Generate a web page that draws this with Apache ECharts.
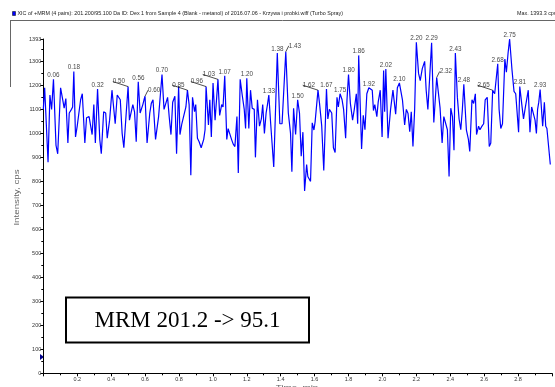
<!DOCTYPE html>
<html><head><meta charset="utf-8">
<script src="https://cdn.jsdelivr.net/npm/echarts@6/dist/echarts.min.js"></script>
<style>html,body{margin:0;padding:0;background:#fff}#c{width:555px;height:387px}</style>
</head><body><div id="c"></div>
<script>
// Retention time (min)
const times = [
0,0.008,0.028,0.039,0.049,0.06,0.075,0.085,0.102,0.117,
0.123,0.133,0.145,0.153,0.166,0.173,0.18,0.19,0.2,0.22,
0.23,0.245,0.255,0.27,0.28,0.288,0.298,0.307,0.32,0.333,
0.342,0.356,0.368,0.377,0.391,0.405,0.415,0.424,0.436,0.444,
0.454,0.465,0.475,0.489,0.5,0.508,0.518,0.528,0.538,0.548,
0.56,0.571,0.587,0.594,0.6,0.612,0.628,0.637,0.647,0.662,
0.68,0.7,0.712,0.723,0.733,0.743,0.753,0.763,0.776,0.786,
0.798,0.806,0.817,0.825,0.841,0.85,0.86,0.87,0.88,0.892,
0.899,0.909,0.919,0.931,0.946,0.954,0.96,0.974,0.982,0.991,
1.001,1.013,1.021,1.03,1.04,1.052,1.06,1.07,1.082,1.09,
1.1,1.11,1.12,1.13,1.142,1.15,1.161,1.173,1.185,1.193,
1.2,1.212,1.222,1.232,1.244,1.251,1.263,1.275,1.286,1.294,
1.304,1.314,1.322,1.33,1.341,1.349,1.359,1.38,1.395,1.408,
1.43,1.445,1.458,1.466,1.476,1.488,1.5,1.511,1.521,1.531,
1.541,1.553,1.56,1.568,1.576,1.586,1.596,1.603,1.62,1.629,
1.642,1.654,1.67,1.678,1.687,1.701,1.711,1.721,1.732,1.74,
1.75,1.762,1.771,1.783,1.791,1.8,1.811,1.824,1.834,1.846,
1.854,1.86,1.877,1.887,1.897,1.908,1.92,1.928,1.94,1.947,
1.955,1.967,1.975,1.987,1.998,2.007,2.013,2.02,2.033,2.048,
2.062,2.078,2.088,2.1,2.118,2.131,2.141,2.151,2.161,2.17,
2.18,2.19,2.2,2.213,2.223,2.235,2.249,2.258,2.268,2.278,
2.29,2.303,2.32,2.34,2.352,2.362,2.372,2.383,2.393,2.403,
2.413,2.422,2.43,2.442,2.452,2.462,2.471,2.48,2.495,2.507,
2.515,2.528,2.538,2.548,2.555,2.567,2.575,2.587,2.597,2.606,
2.618,2.63,2.639,2.65,2.662,2.68,2.688,2.698,2.708,2.722,
2.731,2.741,2.75,2.764,2.776,2.786,2.795,2.803,2.81,2.822,
2.832,2.842,2.851,2.86,2.87,2.88,2.89,2.9,2.908,2.915,
2.922,2.93,2.945,2.955,2.963,2.97,2.99
];
// Intensity (cps)
const intensity = [
1100,1190,880,1160,1100,1225,950,915,1190,1130,
1105,1145,960,1085,1100,1110,1258,985,1030,1140,
1165,960,1065,1070,1065,995,1120,960,1185,975,
915,1090,1085,980,1055,1180,1185,1040,1160,1165,
1140,1000,940,1085,1195,1055,1050,1120,1090,965,
1215,1085,1120,1140,1155,960,1085,1125,1140,975,
1070,1245,1100,1105,1150,1065,995,1130,1155,915,
1195,995,1040,1040,1110,1180,1120,825,1150,1090,
1120,980,965,940,975,1015,1195,1035,1140,985,
1210,1055,1060,1225,1075,1120,1110,1240,975,1020,
1015,975,955,945,1070,835,1225,1160,1100,1020,
1230,1020,1180,1105,1100,900,1140,1030,1060,1120,
1000,1085,1120,1160,1040,960,860,1335,1040,1040,
1340,1085,1000,840,1105,995,1140,1083,905,1005,
760,870,820,820,800,1044,1014,1048,1180,1125,
1030,845,1185,1060,1100,1085,940,920,1150,1110,
1165,1140,1100,980,1140,1245,1125,1055,1100,1165,
1040,1325,935,1075,1015,1165,1190,1185,1180,1095,
1120,1070,1130,1180,985,1262,1090,1268,980,1100,
1180,1080,1190,1210,1140,1035,1100,1083,1007,1090,
945,1100,1380,1250,1220,1270,1300,1180,1100,1095,
1378,1045,1233,1105,960,1070,1075,1015,820,1105,
1070,930,1335,1150,1060,1015,1095,1205,1015,975,
925,1140,1125,1165,995,1030,1015,1030,1040,1140,
1150,945,960,1180,1165,1290,1100,1020,1040,1310,
1255,1335,1393.3,1265,1175,1165,1160,1005,1195,1120,
1060,1105,1110,1180,1005,1110,1105,1055,1000,1100,
1130,1183,1030,1130,1030,1020,870
];
// Labelled peak apex times
const peakTimes = [0.06,0.18,0.32,0.56,0.70,1.07,1.20,1.33,1.38,1.50,1.67,1.75,1.80,1.86,1.92,2.02,2.10,2.20,2.29,2.43,2.48,2.68,2.75,2.81,2.93];
const peakTimesLeft = [0.50,0.85,0.96,1.03,1.62,2.65];
const peakTimesRight = [0.60,1.43,2.32];

const titleText = 'XIC of +MRM (4 pairs): 201.200/95.100 Da ID: Dex 1 from Sample 4 (Blank - metanol) of 2016.07.06 - Krzywa i probki.wiff (Turbo Spray)';
const maxText = 'Max. 1393.3 cps.';
const boxText = 'MRM 201.2 -> 95.1';
const yName = 'Intensity, cps';
const xName = 'Time, min';

function pick(list) {
  return list.map(pt => {
    const i = times.findIndex(t => Math.abs(t - pt) < 1e-9);
    return [times[i], intensity[i]];
  });
}
const F = 'Liberation Sans, Arial, sans-serif';
const chart = echarts.init(document.getElementById('c'), null, {renderer: 'canvas'});
const lbl = {show: true, fontSize: 6.3, fontFamily: F, color: '#111', formatter: p => p.value[0].toFixed(2)};
const guide = {show: true, length2: 0, lineStyle: {color: '#000', width: 0.7}};
chart.setOption({
  animation: false,
  backgroundColor: '#fff',
  grid: {left: 43.3, right: 0.2, top: 39, bottom: 13.7},
  xAxis: {
    type: 'value', min: 0, max: 3.0, interval: 0.2,
    axisLine: {lineStyle: {color: '#000', width: 1}},
    axisTick: {length: 3, lineStyle: {color: '#000', width: 1}},
    minorTick: {show: true, splitNumber: 2, length: 2, lineStyle: {color: '#000', width: 1}},
    splitLine: {show: false}, minorSplitLine: {show: false},
    axisLabel: {fontSize: 5.5, fontFamily: F, color: '#333', margin: 3,
      formatter: v => (v > 0.01 && v < 2.99) ? v.toFixed(1) : ''}
  },
  yAxis: {
    type: 'value', min: 0, max: 1393.3, interval: 100,
    axisLine: {show: true, lineStyle: {color: '#000', width: 1}},
    axisTick: {show: true, length: 3, lineStyle: {color: '#000', width: 1}},
    minorTick: {show: true, splitNumber: 2, length: 2, lineStyle: {color: '#000', width: 1}},
    splitLine: {show: false}, minorSplitLine: {show: false},
    axisLabel: {fontSize: 5.5, fontFamily: F, color: '#333', margin: 2,
      formatter: v => String(Math.round(v))}
  },
  series: [
    {type: 'line', data: times.map((t, i) => [t, intensity[i]]), showSymbol: false, symbol: 'none',
     lineStyle: {color: '#0000ff', width: 1.2}, silent: true, z: 2},
    {type: 'scatter', data: pick(peakTimes), symbolSize: 0, silent: true, z: 3,
     label: Object.assign({position: 'top', distance: 1}, lbl)},
    {type: 'scatter', data: pick(peakTimesLeft), symbolSize: 0, silent: true, z: 3,
     label: Object.assign({position: 'left', distance: 0}, lbl),
     labelLayout: {dx: -3, dy: -5},
     labelLine: guide},
    {type: 'scatter', data: pick(peakTimesRight), symbolSize: 0, silent: true, z: 3,
     label: Object.assign({position: 'right', distance: 0}, lbl),
     labelLayout: {dx: 3, dy: -6},
     labelLine: guide}
  ],
  graphic: [
    {type: 'line', shape: {x1: 10, y1: 20.5, x2: 555, y2: 20.5}, style: {stroke: '#666', lineWidth: 1}, silent: true},
    {type: 'line', shape: {x1: 10.5, y1: 20, x2: 10.5, y2: 87}, style: {stroke: '#666', lineWidth: 1}, silent: true},
    {type: 'rect', shape: {x: 12.5, y: 11.5, width: 3, height: 4}, style: {fill: '#0000ff', stroke: '#000', lineWidth: 0.5}, silent: true},
    {type: 'text', x: 17.5, y: 14, style: {text: titleText, fontSize: 5.4, fontFamily: F, fill: '#222', verticalAlign: 'middle'}, silent: true},
    {type: 'text', x: 517, y: 14, style: {text: maxText, fontSize: 5.4, fontFamily: F, fill: '#222', verticalAlign: 'middle'}, silent: true},
    {type: 'text', x: 17, y: 197.5, rotation: Math.PI / 2, scaleX: 1.5,
     style: {text: yName, fontSize: 6.5, fontFamily: F, fill: '#666', align: 'center', verticalAlign: 'middle'}, silent: true},
    {type: 'text', x: 297, y: 384.5, scaleX: 1.5,
     style: {text: xName, fontSize: 6.5, fontFamily: F, fill: '#666', align: 'center', verticalAlign: 'top'}, silent: true},
    {type: 'polygon', shape: {points: [[40, 354], [44, 357], [40, 360]]}, style: {fill: '#00008b'}, silent: true},
    {type: 'rect', z: 10, shape: {x: 66, y: 297.5, width: 243, height: 45}, style: {fill: '#fff', stroke: '#000', lineWidth: 2}, silent: true},
    {type: 'text', z: 11, x: 187.5, y: 321, style: {text: boxText, fontSize: 23, fontFamily: 'Liberation Serif, Times New Roman, serif', fill: '#000', align: 'center', verticalAlign: 'middle'}, silent: true}
  ]
});
</script></body></html>
